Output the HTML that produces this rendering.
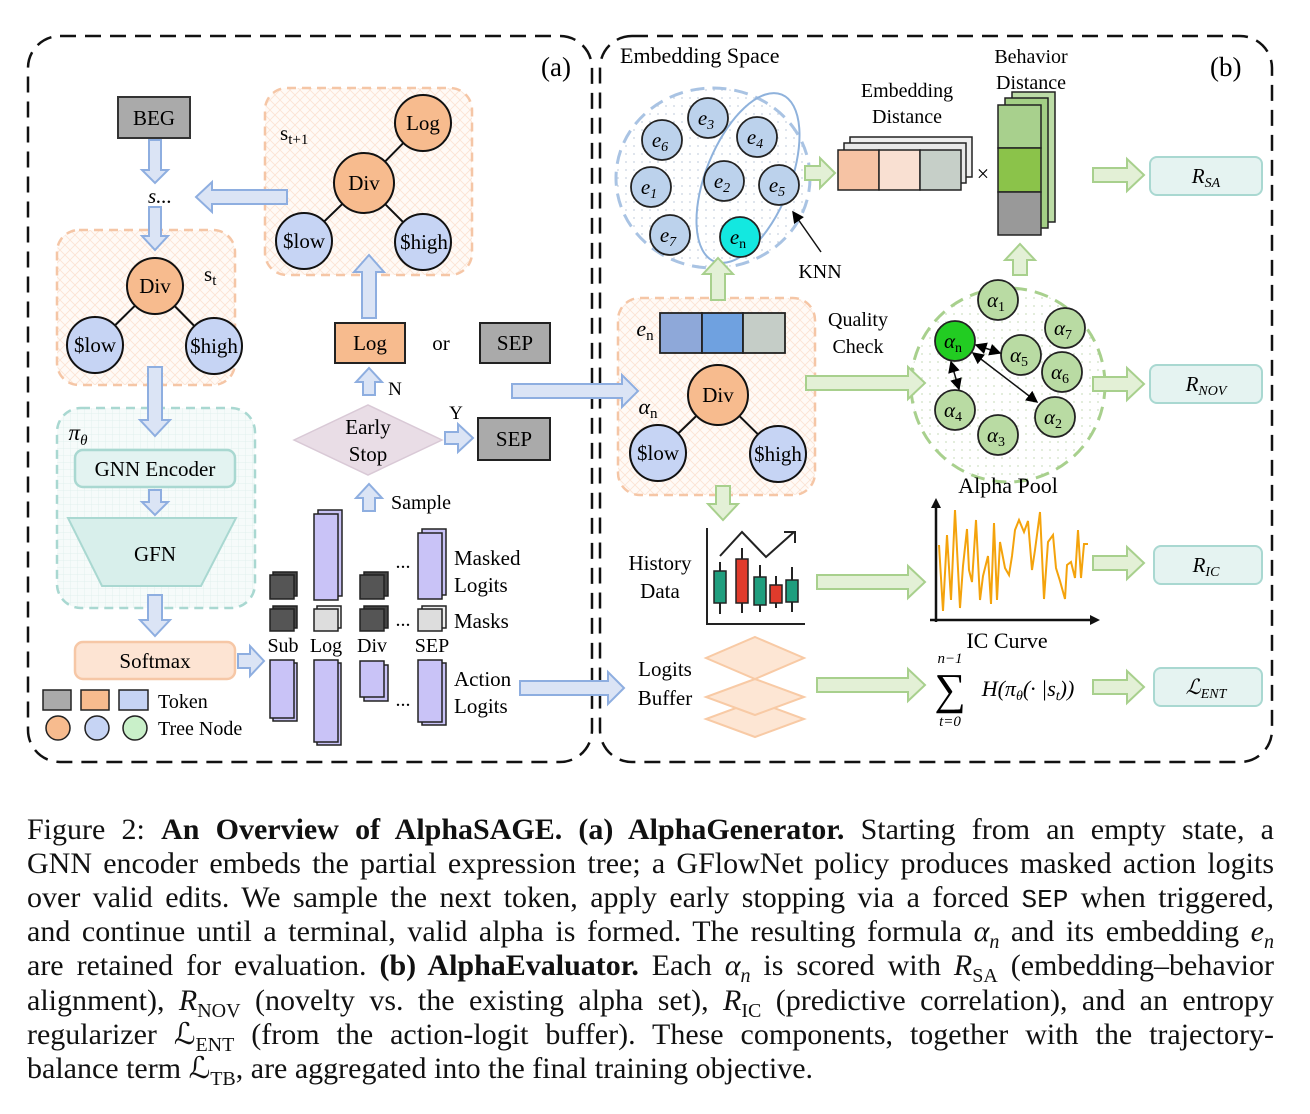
<!DOCTYPE html>
<html><head><meta charset="utf-8"><style>
body{margin:0;background:#fff;width:1310px;height:1114px;position:relative;overflow:hidden;font-family:"Liberation Serif",serif}
svg{position:absolute;left:0;top:0}
.cap{position:absolute;left:27px;width:1247px;font-size:30px;line-height:34px;height:34px;text-align:justify;text-align-last:justify;white-space:nowrap;color:#111}
.cap.l{text-align-last:left}
.cap sub{font-size:20px;line-height:0}
.mono{font-family:"Liberation Mono",monospace;font-size:26px}
</style></head><body>
<svg width="1310" height="800" viewBox="0 0 1310 800" font-family="Liberation Serif, serif">
<defs>
<pattern id="hatch" width="10" height="10" patternUnits="userSpaceOnUse"><rect width="10" height="10" fill="#fffaf6"/><path d="M0 0L10 10M10 0L0 10" stroke="#fbe3d3" stroke-width="0.8"/></pattern>
<pattern id="grid" width="7" height="7" patternUnits="userSpaceOnUse"><rect width="7" height="7" fill="#f6fbfa"/><path d="M0 0H7M0 0V7" stroke="#dcefec" stroke-width="0.8"/></pattern>
<pattern id="dots" width="8" height="8" patternUnits="userSpaceOnUse"><rect width="8" height="8" fill="#fff"/><circle cx="2" cy="2" r="0.9" fill="#c9d3e0"/></pattern>
<pattern id="gdots" width="8" height="8" patternUnits="userSpaceOnUse"><rect width="8" height="8" fill="#fff"/><circle cx="2" cy="2" r="0.9" fill="#cfe0c4"/></pattern>
<marker id="ah" markerWidth="8" markerHeight="8" refX="7" refY="4" orient="auto"><path d="M0 0L8 4L0 8z" fill="#000"/></marker>
<marker id="ahs" markerWidth="8" markerHeight="8" refX="1" refY="4" orient="auto"><path d="M8 0L0 4L8 8z" fill="#000"/></marker>
</defs>
<rect x="28" y="36" width="564" height="726" rx="32" fill="none" stroke="#111" stroke-width="2.5" stroke-dasharray="16 9"/>
<rect x="600" y="36" width="672" height="726" rx="32" fill="none" stroke="#111" stroke-width="2.5" stroke-dasharray="16 9"/>
<text x="541" y="76" font-size="27">(a)</text>
<text x="1210" y="76" font-size="27">(b)</text>

<g font-size="21" text-anchor="middle">
<rect x="118" y="97" width="72" height="41" fill="#aaa" stroke="#333" stroke-width="2"/>
<text x="154" y="125">BEG</text>
<text x="160" y="203" font-style="italic">s...</text>

<rect x="265" y="88" width="207" height="187" rx="22" fill="url(#hatch)" stroke="#f5c6a6" stroke-width="2.5" stroke-dasharray="9 6"/>
<text x="280" y="140" text-anchor="start">s<tspan font-size="15" dy="4">t+1</tspan></text>
<g stroke="#111" stroke-width="2">
<line x1="423" y1="123" x2="364" y2="183"/><line x1="364" y1="183" x2="304" y2="241"/><line x1="364" y1="183" x2="423" y2="242"/>
<circle cx="423" cy="123" r="28" fill="#f7bb8e"/><circle cx="364" cy="183" r="30" fill="#f7bb8e"/>
<circle cx="304" cy="241" r="28" fill="#c6d4f4"/><circle cx="423" cy="242" r="28" fill="#c6d4f4"/>
</g>
<text x="423" y="130">Log</text><text x="364" y="190">Div</text><text x="304" y="248">$low</text><text x="424" y="249">$high</text>

<rect x="57" y="230" width="178" height="155" rx="22" fill="url(#hatch)" stroke="#f5c6a6" stroke-width="2.5" stroke-dasharray="9 6"/>
<text x="204" y="281" text-anchor="start">s<tspan font-size="15" dy="4">t</tspan></text>
<g stroke="#111" stroke-width="2">
<line x1="155" y1="286" x2="95" y2="345"/><line x1="155" y1="286" x2="214" y2="346"/>
<circle cx="155" cy="286" r="28" fill="#f7bb8e"/>
<circle cx="95" cy="345" r="28" fill="#c6d4f4"/><circle cx="214" cy="346" r="28" fill="#c6d4f4"/>
</g>
<text x="155" y="293">Div</text><text x="95" y="352">$low</text><text x="214" y="353">$high</text>

<rect x="57" y="408" width="198" height="200" rx="24" fill="url(#grid)" stroke="#a9d8d1" stroke-width="2.5" stroke-dasharray="9 6"/>
<text x="78" y="440" font-style="italic" font-size="23">π<tspan font-size="15" dy="5">θ</tspan></text>
<rect x="75" y="450" width="160" height="37" rx="8" fill="#e3f3f1" stroke="#a9d8d1" stroke-width="2.5"/>
<text x="155" y="476">GNN Encoder</text>
<path d="M68 518H236L201 586H102Z" fill="#d8efeb" stroke="#a9d8d1" stroke-width="2"/>
<text x="155" y="561">GFN</text>
<rect x="75" y="642" width="160" height="37" rx="8" fill="#fde4d3" stroke="#f6c7a6" stroke-width="2.5"/>
<text x="155" y="668">Softmax</text>

<rect x="43" y="690" width="28" height="20" fill="#aaa" stroke="#222" stroke-width="1.5"/>
<rect x="81" y="690" width="28" height="20" fill="#f7bb8e" stroke="#222" stroke-width="1.5"/>
<rect x="119" y="690" width="29" height="20" fill="#c6d4f4" stroke="#222" stroke-width="1.5"/>
<text x="158" y="708" text-anchor="start" font-size="20">Token</text>
<circle cx="58" cy="728" r="12" fill="#f7bb8e" stroke="#222" stroke-width="1.5"/>
<circle cx="97" cy="728" r="12" fill="#c6d4f4" stroke="#222" stroke-width="1.5"/>
<circle cx="135" cy="728" r="12" fill="#c9f0c9" stroke="#222" stroke-width="1.5"/>
<text x="158" y="735" text-anchor="start" font-size="20">Tree Node</text>

<rect x="335" y="323" width="70" height="40" fill="#f7bb8e" stroke="#222" stroke-width="2"/>
<text x="370" y="350">Log</text>
<text x="441" y="350">or</text>
<rect x="480" y="323" width="70" height="40" fill="#aaa" stroke="#222" stroke-width="2"/>
<text x="515" y="350">SEP</text>
<text x="395" y="395" font-size="19">N</text>
<path d="M294 440L368 405L442 440L368 475Z" fill="#e9dde6" stroke="#d9c9d6" stroke-width="1.5"/>
<text x="368" y="434">Early</text><text x="368" y="461">Stop</text>
<text x="456" y="419" font-size="19">Y</text>
<rect x="478" y="418" width="72" height="42" fill="#aaa" stroke="#222" stroke-width="2"/>
<text x="514" y="446">SEP</text>
<text x="421" y="509" font-size="20">Sample</text>

<g stroke="#222" stroke-width="1.5">
<rect x="318" y="510" width="24" height="86" fill="#c9c3f7"/><rect x="314" y="514" width="24" height="86" fill="#c9c3f7"/>
<rect x="422" y="529" width="24" height="66" fill="#c9c3f7"/><rect x="418" y="533" width="24" height="66" fill="#c9c3f7"/>
<rect x="273" y="572" width="24" height="24" fill="#444"/><rect x="270" y="575" width="24" height="24" fill="#555"/>
<rect x="364" y="572" width="24" height="24" fill="#444"/><rect x="360" y="575" width="24" height="24" fill="#555"/>
<rect x="273" y="606" width="24" height="22" fill="#444"/><rect x="270" y="609" width="24" height="22" fill="#555"/>
<rect x="317" y="606" width="24" height="22" fill="#eee"/><rect x="314" y="609" width="24" height="22" fill="#ddd"/>
<rect x="364" y="606" width="24" height="22" fill="#444"/><rect x="360" y="609" width="24" height="22" fill="#555"/>
<rect x="422" y="606" width="24" height="22" fill="#eee"/><rect x="418" y="609" width="24" height="22" fill="#ddd"/>
<rect x="273" y="663" width="24" height="58" fill="#c9c3f7"/><rect x="270" y="660" width="24" height="58" fill="#c9c3f7"/>
<rect x="317" y="663" width="24" height="82" fill="#c9c3f7"/><rect x="314" y="660" width="24" height="82" fill="#c9c3f7"/>
<rect x="364" y="665" width="24" height="36" fill="#c9c3f7"/><rect x="360" y="661" width="24" height="36" fill="#c9c3f7"/>
<rect x="422" y="663" width="24" height="62" fill="#c9c3f7"/><rect x="418" y="660" width="24" height="62" fill="#c9c3f7"/>
</g>
<g font-size="20">
<text x="283" y="652">Sub</text><text x="326" y="652">Log</text><text x="372" y="652">Div</text><text x="432" y="652">SEP</text>
<text x="403" y="568">...</text><text x="403" y="626">...</text><text x="403" y="706">...</text>
</g>
<g font-size="21" text-anchor="start">
<text x="454" y="565">Masked</text><text x="454" y="592">Logits</text>
<text x="454" y="628">Masks</text>
<text x="454" y="686">Action</text><text x="454" y="713">Logits</text>
</g>

<text x="620" y="63" text-anchor="start" font-size="22">Embedding Space</text>
<ellipse cx="713" cy="178" rx="97" ry="90" fill="url(#dots)" stroke="#a9c3e3" stroke-width="3" stroke-dasharray="14 8"/>
<ellipse cx="748" cy="178" rx="42" ry="90" transform="rotate(22 748 178)" fill="none" stroke="#8fb2dc" stroke-width="2"/>
<g stroke="#222" stroke-width="1.8" fill="#bcd2ec">
<circle cx="708" cy="118" r="20"/><circle cx="662" cy="140" r="20"/><circle cx="757" cy="137" r="20"/>
<circle cx="651" cy="187" r="20"/><circle cx="724" cy="181" r="20"/><circle cx="779" cy="185" r="20"/>
<circle cx="670" cy="235" r="20"/><circle cx="740" cy="237" r="20" fill="#13e8e0"/>
</g>
<g font-style="italic" font-size="21">
<text x="706" y="125">e<tspan font-size="14" dy="4">3</tspan></text>
<text x="660" y="147">e<tspan font-size="14" dy="4">6</tspan></text>
<text x="755" y="144">e<tspan font-size="14" dy="4">4</tspan></text>
<text x="649" y="194">e<tspan font-size="14" dy="4">1</tspan></text>
<text x="722" y="188">e<tspan font-size="14" dy="4">2</tspan></text>
<text x="777" y="192">e<tspan font-size="14" dy="4">5</tspan></text>
<text x="668" y="242">e<tspan font-size="14" dy="4">7</tspan></text>
<text x="738" y="244">e<tspan font-size="14" dy="4" font-style="normal">n</tspan></text>
</g>
<line x1="821" y1="252" x2="793" y2="212" stroke="#111" stroke-width="1.5" marker-end="url(#ah)"/>
<text x="820" y="278" font-size="20">KNN</text>

<text x="907" y="97" font-size="20">Embedding</text><text x="907" y="123" font-size="20">Distance</text>
<g stroke="#222" stroke-width="1.5">
<rect x="850" y="137" width="122" height="40" fill="#eee"/>
<rect x="844" y="143" width="122" height="40" fill="#e8e8e8"/>
<rect x="838" y="150" width="41" height="40" fill="#f6c3a4"/><rect x="879" y="150" width="41" height="40" fill="#f9e0d2"/><rect x="920" y="150" width="41" height="40" fill="#c6cfc8"/>
</g>
<text x="983" y="181" font-size="22">×</text>
<text x="1031" y="63" font-size="20">Behavior</text><text x="1031" y="89" font-size="20">Distance</text>
<g stroke="#222" stroke-width="1.5">
<rect x="1012" y="92" width="43" height="130" fill="#bcdca6"/>
<rect x="1005" y="98" width="43" height="130" fill="#a3cf85"/>
<rect x="998" y="105" width="43" height="43" fill="#a8d08d"/><rect x="998" y="148" width="43" height="44" fill="#8bc34a"/><rect x="998" y="192" width="43" height="43" fill="#999"/>
</g>
<g font-size="21" font-style="italic">
<rect x="1150" y="157" width="112" height="38" rx="7" fill="#e5f3f1" stroke="#a9d8d1" stroke-width="2"/>
<text x="1206" y="183">R<tspan font-size="14" dy="4">SA</tspan></text>
<rect x="1150" y="365" width="112" height="38" rx="7" fill="#e5f3f1" stroke="#a9d8d1" stroke-width="2"/>
<text x="1206" y="391">R<tspan font-size="14" dy="4">NOV</tspan></text>
<rect x="1154" y="546" width="108" height="38" rx="7" fill="#e5f3f1" stroke="#a9d8d1" stroke-width="2"/>
<text x="1206" y="572">R<tspan font-size="14" dy="4">IC</tspan></text>
<rect x="1154" y="668" width="108" height="38" rx="7" fill="#e5f3f1" stroke="#a9d8d1" stroke-width="2"/>
<text x="1206" y="694">ℒ<tspan font-size="14" dy="4">ENT</tspan></text>
</g>

<circle cx="1008" cy="385" r="97" fill="url(#gdots)" stroke="#a8d08d" stroke-width="3" stroke-dasharray="14 8"/>
<g stroke="#222" stroke-width="1.8" fill="#b9dba3">
<circle cx="998" cy="300" r="20"/><circle cx="1065" cy="328" r="20"/><circle cx="955" cy="341" r="20" fill="#22cc22"/>
<circle cx="1021" cy="355" r="20"/><circle cx="1062" cy="372" r="20"/><circle cx="955" cy="410" r="20"/>
<circle cx="1055" cy="417" r="20"/><circle cx="998" cy="435" r="20"/>
</g>
<g font-style="italic" font-size="21">
<text x="996" y="307">α<tspan font-size="14" dy="4" font-style="normal">1</tspan></text>
<text x="1063" y="335">α<tspan font-size="14" dy="4" font-style="normal">7</tspan></text>
<text x="953" y="348">α<tspan font-size="14" dy="4" font-style="normal">n</tspan></text>
<text x="1019" y="362">α<tspan font-size="14" dy="4" font-style="normal">5</tspan></text>
<text x="1060" y="379">α<tspan font-size="14" dy="4" font-style="normal">6</tspan></text>
<text x="953" y="417">α<tspan font-size="14" dy="4" font-style="normal">4</tspan></text>
<text x="1053" y="424">α<tspan font-size="14" dy="4" font-style="normal">2</tspan></text>
<text x="996" y="442">α<tspan font-size="14" dy="4" font-style="normal">3</tspan></text>
</g>
<g stroke="#111" stroke-width="1.5">
<line x1="976" y1="345" x2="1000" y2="353" marker-end="url(#ah)" marker-start="url(#ahs)"/>
<line x1="951" y1="362" x2="959" y2="389" marker-end="url(#ah)" marker-start="url(#ahs)"/>
<line x1="973" y1="353" x2="1037" y2="402" marker-end="url(#ah)" marker-start="url(#ahs)"/>
</g>
<text x="1008" y="493" font-size="22">Alpha Pool</text>
<text x="858" y="326" font-size="20">Quality</text><text x="858" y="353" font-size="20">Check</text>

<rect x="618" y="298" width="197" height="197" rx="22" fill="url(#hatch)" stroke="#f5c6a6" stroke-width="2.5" stroke-dasharray="9 6"/>
<g stroke="#222" stroke-width="1.8">
<rect x="660" y="313" width="42" height="40" fill="#8ea8d9"/><rect x="702" y="313" width="41" height="40" fill="#6fa1e0"/><rect x="743" y="313" width="42" height="40" fill="#c5cdc7"/>
</g>
<text x="645" y="336" font-style="italic" font-size="22">e<tspan font-size="15" dy="4" font-style="normal">n</tspan></text>
<text x="648" y="414" font-style="italic" font-size="22">α<tspan font-size="15" dy="4" font-style="normal">n</tspan></text>
<g stroke="#111" stroke-width="2">
<line x1="718" y1="395" x2="658" y2="453"/><line x1="718" y1="395" x2="778" y2="454"/>
<circle cx="718" cy="395" r="30" fill="#f7bb8e"/>
<circle cx="658" cy="453" r="28" fill="#c6d4f4"/><circle cx="778" cy="454" r="28" fill="#c6d4f4"/>
</g>
<text x="718" y="402">Div</text><text x="658" y="460">$low</text><text x="778" y="461">$high</text>

<text x="660" y="570" font-size="21">History</text><text x="660" y="598" font-size="21">Data</text>
<g stroke="#222" stroke-width="2" fill="none">
<path d="M707 528V624H805"/>
<path d="M720 556L742 532L766 557L794 532M784 532H795V543"/>
<path d="M720 562V614M742 548V613M760 565V612M776 576V608M792 567V612"/>
</g>
<g stroke="#222" stroke-width="1.5">
<rect x="714" y="571" width="12" height="32" fill="#1f9e7e"/><rect x="736" y="559" width="12" height="44" fill="#e03b2c"/>
<rect x="754" y="577" width="12" height="28" fill="#1f9e7e"/><rect x="770" y="585" width="12" height="18" fill="#e03b2c"/>
<rect x="786" y="580" width="12" height="22" fill="#1f9e7e"/>
</g>
<path d="M939 545L943 611L947 535L951 600L955 510L960 608L963 566L967 529L969 570L972 582L976 520L980 600L983 576L988 556L991 604L994 523L997 600L1000 542L1005 568L1009 575L1012 556L1015 530L1019 520L1024 532L1028 521L1032 570L1035 550L1040 512L1044 599L1048 542L1053 535L1056 568L1060 581L1065 599L1067 565L1071 562L1075 578L1078 530L1081 578L1084 544L1088 544" fill="none" stroke="#f4a30c" stroke-width="2"/>
<g stroke="#111" stroke-width="2.5" fill="none"><path d="M936 622V504M930 620H1096"/></g>
<path d="M936 498L931 508H941Z M1100 620L1090 615V625Z" fill="#111"/>
<text x="1007" y="648" font-size="22">IC Curve</text>

<text x="665" y="676" font-size="21">Logits</text><text x="665" y="705" font-size="21">Buffer</text>
<g fill="#fde6d4" stroke="#f8caa5" stroke-width="2">
<path d="M755 701L804 719L755 737L706 719Z"/>
<path d="M755 679L804 697L755 715L706 697Z"/>
<path d="M755 637L804 658L755 679L706 658Z"/>
</g>
<g font-style="italic">
<text x="950" y="704" font-size="44" font-style="normal">∑</text>
<text x="950" y="663" font-size="15">n−1</text>
<text x="950" y="726" font-size="15">t=0</text>
<text x="1028" y="696" font-size="22" text-anchor="middle">H(π<tspan font-size="14" dy="4">θ</tspan><tspan dy="-4">(· |s</tspan><tspan font-size="14" dy="4">t</tspan><tspan dy="-4">))</tspan></text>
</g>
</g>

<g fill="#dbe4f5" stroke="#8eaee0" stroke-width="2">
<polygon points="149,140 161,140 161,170 168,170 155,183 142,170 149,170"/>
<polygon points="149,207 161,207 161,236 168,236 155,250 142,236 149,236"/>
<polygon points="287,190 212,190 212,182 196,197 212,212 212,204 287,204"/>
<polygon points="148,367 162,367 162,420 170,420 155,436 140,420 148,420"/>
<polygon points="149,490 161,490 161,502 168,502 155,515 142,502 149,502"/>
<polygon points="148,595 162,595 162,620 170,620 155,636 140,620 148,620"/>
<polygon points="238,654 250,654 250,646 264,661 250,676 250,668 238,668"/>
<polygon points="362,318 376,318 376,272 384,272 369,255 354,272 362,272"/>
<polygon points="363,395 375,395 375,382 382,382 369,368 356,382 363,382"/>
<polygon points="363,511 375,511 375,498 382,498 369,484 356,498 363,498"/>
<polygon points="445,432 458,432 458,424 473,438 458,452 458,444 445,444"/>
<polygon points="512,384 622,384 622,375 638,391 622,407 622,398 512,398"/>
<polygon points="520,681 608,681 608,672 624,688 608,704 608,695 520,695"/>
</g>
<g fill="#e3f0d6" stroke="#a8d08d" stroke-width="2">
<polygon points="711,300 725,300 725,274 733,274 718,258 703,274 711,274"/>
<polygon points="1013,275 1027,275 1027,260 1035,260 1020,244 1005,260 1013,260"/>
<polygon points="716,486 730,486 730,504 738,504 723,520 708,504 716,504"/>
<polygon points="805,166 820,166 820,158 835,173 820,188 820,180 805,180"/>
<polygon points="806,376 908,376 908,367 925,383 908,399 908,390 806,390"/>
<polygon points="817,575 908,575 908,566 925,582 908,598 908,589 817,589"/>
<polygon points="817,678 908,678 908,669 925,685 908,701 908,692 817,692"/>
<polygon points="1093,168 1127,168 1127,159 1144,175 1127,191 1127,182 1093,182"/>
<polygon points="1093,377 1127,377 1127,368 1144,384 1127,400 1127,391 1093,391"/>
<polygon points="1093,556 1127,556 1127,547 1144,563 1127,579 1127,570 1093,570"/>
<polygon points="1093,680 1127,680 1127,671 1144,687 1127,703 1127,694 1093,694"/>
</g>
</svg>

<div class="cap" style="top:813px">Figure 2: <b>An Overview of AlphaSAGE. (a) AlphaGenerator.</b> Starting from an empty state, a</div>
<div class="cap" style="top:847px">GNN encoder embeds the partial expression tree; a GFlowNet policy produces masked action logits</div>
<div class="cap" style="top:881px">over valid edits. We sample the next token, apply early stopping via a forced <span class="mono">SEP</span> when triggered,</div>
<div class="cap" style="top:915px">and continue until a terminal, valid alpha is formed. The resulting formula <i>α<sub>n</sub></i> and its embedding <i>e<sub>n</sub></i></div>
<div class="cap" style="top:949px">are retained for evaluation. <b>(b) AlphaEvaluator.</b> Each <i>α<sub>n</sub></i> is scored with <i>R</i><sub>SA</sub> (embedding–behavior</div>
<div class="cap" style="top:984px">alignment), <i>R</i><sub>NOV</sub> (novelty vs. the existing alpha set), <i>R</i><sub>IC</sub> (predictive correlation), and an entropy</div>
<div class="cap" style="top:1018px">regularizer ℒ<sub>ENT</sub> (from the action-logit buffer). These components, together with the trajectory-</div>
<div class="cap l" style="top:1052px">balance term ℒ<sub>TB</sub>, are aggregated into the final training objective.</div>
</body></html>
